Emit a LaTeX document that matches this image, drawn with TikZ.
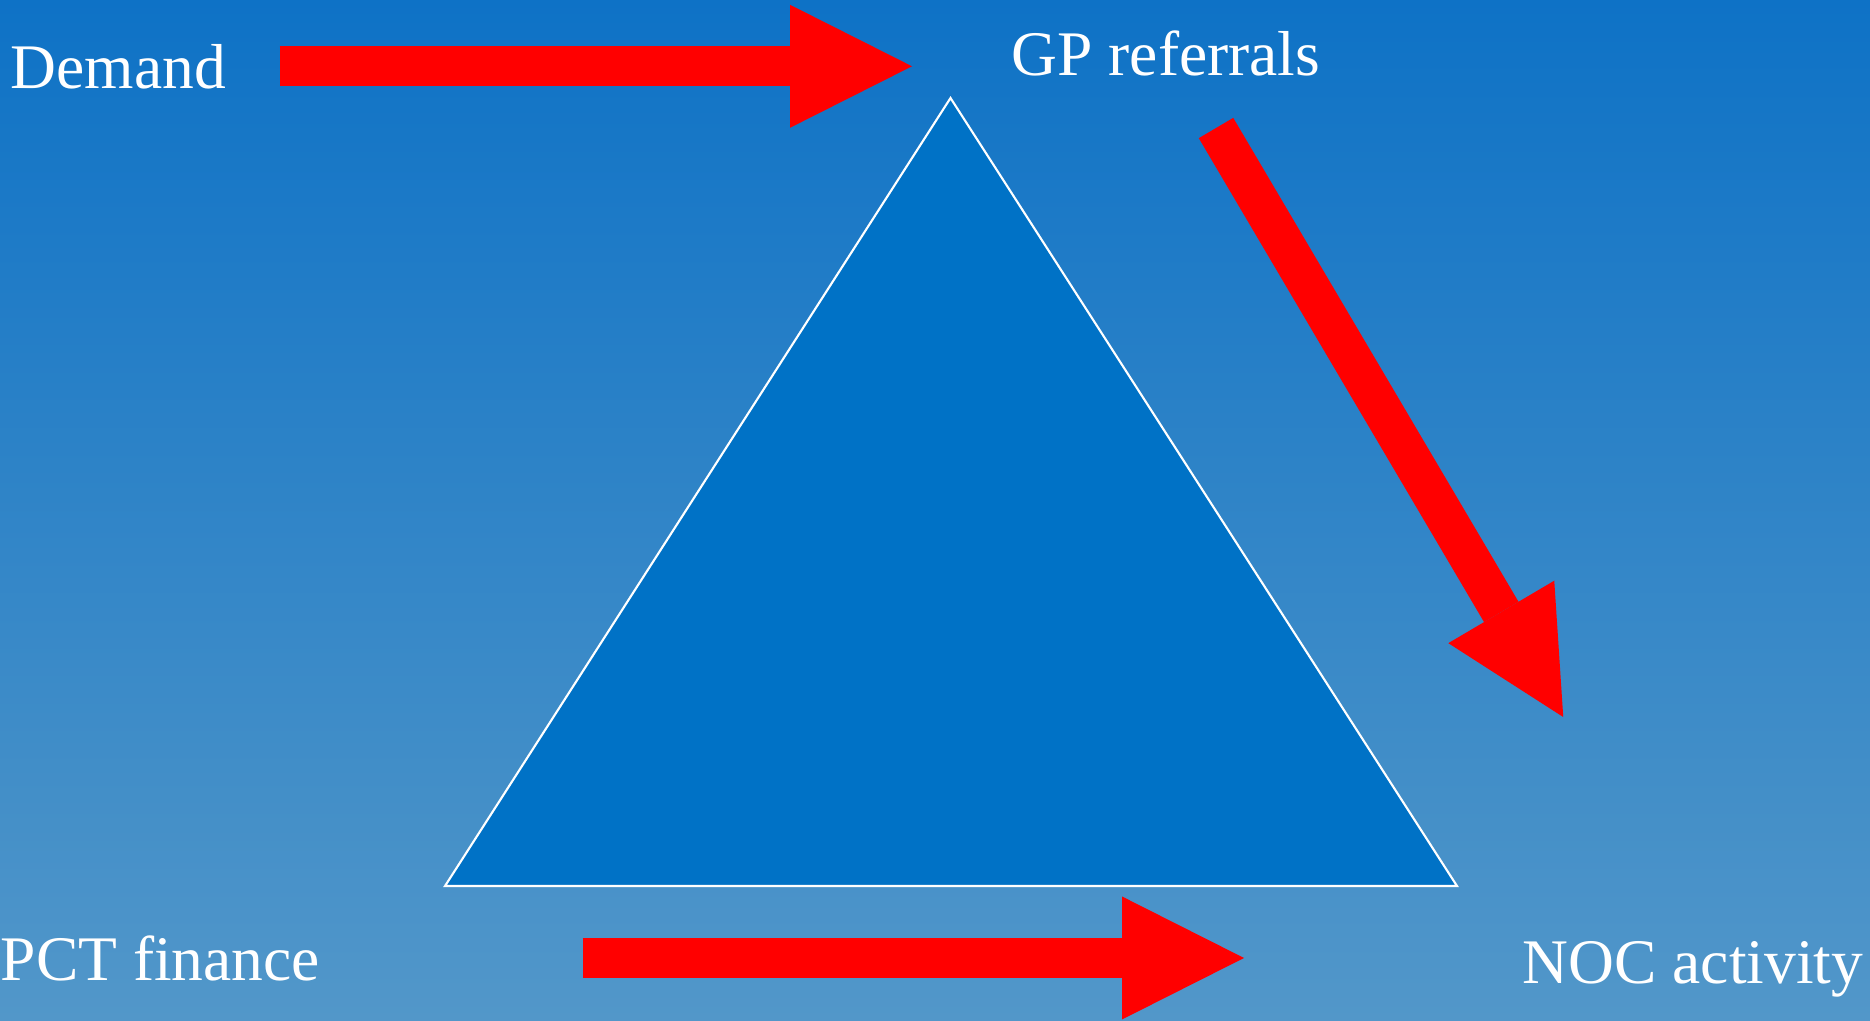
\documentclass[tikz,border=0pt]{standalone}
\usepackage{fontspec}
\setmainfont{Liberation Serif}
\usetikzlibrary{arrows.meta}
\definecolor{bgtop}{RGB}{14,114,198}
\definecolor{bgbottom}{RGB}{82,151,201}
\definecolor{tri}{RGB}{0,114,198}

\begin{document}
\begin{tikzpicture}[x=0.1mm, y=-0.1mm,
    txt/.style = {text=white, inner sep=0pt, anchor=base west, font=\fontsize{18.07pt}{21pt}\selectfont},
    bigarrow/.style = {draw=red, line width=4mm, -{Triangle[length=12.2mm, width=12.3mm, line width=0pt]}}]
    \useasboundingbox (0,0) rectangle (1870,1020);
    \shade[top color=bgtop, bottom color=bgbottom] (0,0) rectangle (1870,1020);

    \filldraw[fill=tri, draw=white, line width=0.6pt] (950.5,98) -- (1457,886) -- (445,886) -- cycle;

    \node[txt] (demand) at (10,88) {Demand};
    \node[txt] (gp) at (1011,75) {GP referrals};
    \node[txt] (pct) at (0,980) {PCT finance};
    \node[txt] (noc) at (1522,983) {NOC activity};

    \draw[bigarrow, shorten <=5.3mm, shorten >=9.9mm] (demand.east) -- (demand.east -| gp.west);
    \draw[bigarrow] ([shift={(50,53)}]gp.base) -- ([shift={(-129.7,-266)}]noc.base);
    \draw[bigarrow, shorten <=26.2mm, shorten >=27.8mm] (pct.east) -- (pct.east -| noc.west);
\end{tikzpicture}
\end{document}
